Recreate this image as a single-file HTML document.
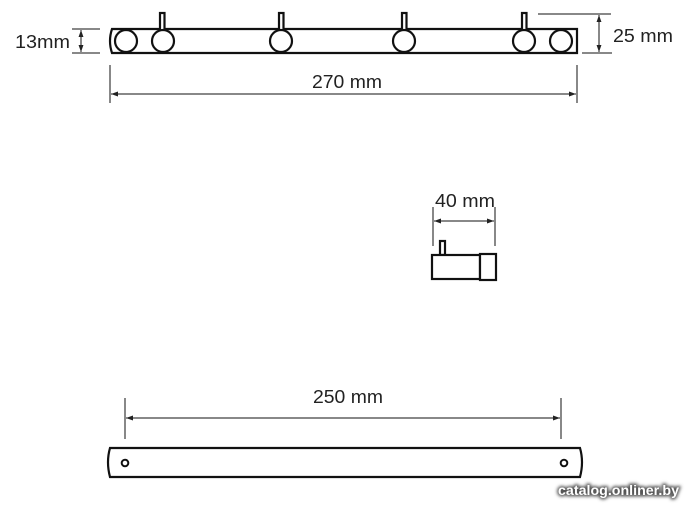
<!DOCTYPE html>
<html><head><meta charset="utf-8"><style>
html,body{margin:0;padding:0;background:#fff;width:700px;height:514px;overflow:hidden}
svg{display:block}
text{font-family:"Liberation Sans",sans-serif;fill:#222}
</style></head><body>
<svg width="700" height="514" viewBox="0 0 700 514" xmlns="http://www.w3.org/2000/svg">
<defs>
<marker id="a" viewBox="0 0 10 10" refX="10" refY="5" markerWidth="7" markerHeight="7" orient="auto-start-reverse"><path d="M0,1.5 L10,5 L0,8.5 z" fill="#222"/></marker>
<filter id="sh" x="-20%" y="-50%" width="140%" height="200%"><feGaussianBlur stdDeviation="1.5"/></filter>
</defs>
<g stroke="#111" fill="none">
<path d="M112,29 L577,29 L577,53 L112,53 Q108,41 112,29 Z" stroke-width="2.2" fill="#fff"/>
<g stroke-width="2.2" fill="#fff">
<rect x="160" y="13" width="4.5" height="18"/><rect x="279" y="13" width="4.5" height="18"/>
<rect x="402" y="13" width="4.5" height="18"/><rect x="522" y="13" width="4.5" height="18"/>
<circle cx="126" cy="41" r="11"/><circle cx="163" cy="41" r="11"/>
<circle cx="281" cy="41" r="11"/><circle cx="404" cy="41" r="11"/>
<circle cx="524" cy="41" r="11"/><circle cx="561" cy="41" r="11"/>
</g>
<g stroke-width="1">
<line x1="72" y1="29" x2="100" y2="29"/><line x1="72" y1="53" x2="100" y2="53"/>
<line x1="81" y1="30" x2="81" y2="52" marker-start="url(#a)" marker-end="url(#a)"/>
<line x1="538" y1="14" x2="611" y2="14"/><line x1="582" y1="53" x2="612" y2="53"/>
<line x1="599" y1="15" x2="599" y2="52" marker-start="url(#a)" marker-end="url(#a)"/>
<line x1="110" y1="65" x2="110" y2="103"/><line x1="577" y1="65" x2="577" y2="103"/>
<line x1="111" y1="94" x2="576" y2="94" marker-start="url(#a)" marker-end="url(#a)"/>
<line x1="433" y1="207" x2="433" y2="246"/><line x1="495" y1="207" x2="495" y2="246"/>
<line x1="434" y1="221" x2="494" y2="221" marker-start="url(#a)" marker-end="url(#a)"/>
<line x1="125" y1="398" x2="125" y2="439"/><line x1="561" y1="398" x2="561" y2="439"/>
<line x1="126" y1="418" x2="560" y2="418" marker-start="url(#a)" marker-end="url(#a)"/>
</g>
<g stroke-width="2.2" fill="#fff">
<rect x="440" y="241" width="5" height="14"/>
<rect x="432" y="255" width="48" height="24"/>
<rect x="480" y="254" width="16" height="26"/>
</g>
<path d="M110,448 L580,448 Q584,462 580,477 L110,477 Q106,462 110,448 Z" stroke-width="2.2" fill="#fff"/>
<circle cx="125" cy="463" r="3.3" stroke-width="2"/>
<circle cx="564" cy="463" r="3.3" stroke-width="2"/>
</g>
<text x="15" y="48" font-size="18" textLength="55" lengthAdjust="spacingAndGlyphs">13mm</text>
<text x="613" y="42" font-size="18" textLength="60" lengthAdjust="spacingAndGlyphs">25 mm</text>
<text x="312" y="88" font-size="18" textLength="70" lengthAdjust="spacingAndGlyphs">270 mm</text>
<text x="435" y="207" font-size="18" textLength="60" lengthAdjust="spacingAndGlyphs">40 mm</text>
<text x="313" y="403" font-size="18" textLength="70" lengthAdjust="spacingAndGlyphs">250 mm</text>
<text x="558" y="495" font-size="14" font-weight="bold" style="fill:#555" filter="url(#sh)" stroke="#555" stroke-width="3" textLength="121" lengthAdjust="spacingAndGlyphs">catalog.onliner.by</text>
<text x="558" y="495" font-size="14" font-weight="bold" style="fill:#fff" textLength="121" lengthAdjust="spacingAndGlyphs">catalog.onliner.by</text>
</svg>
</body></html>
